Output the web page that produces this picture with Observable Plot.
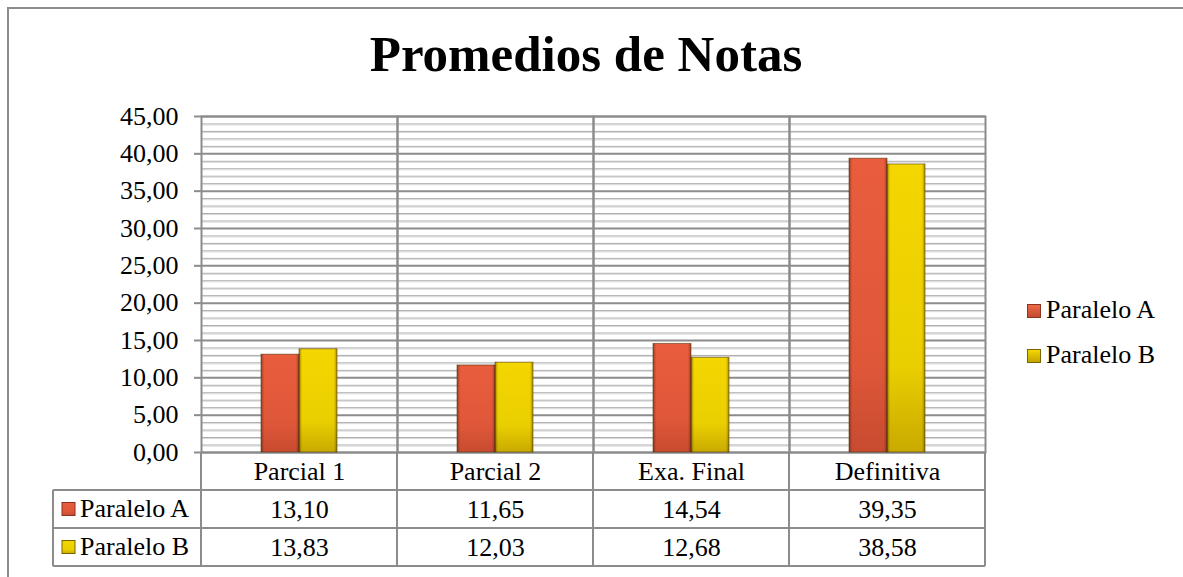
<!DOCTYPE html>
<html><head><meta charset="utf-8">
<script src="https://cdn.jsdelivr.net/npm/d3@7"></script>
<script src="https://cdn.jsdelivr.net/npm/@observablehq/plot@0.6"></script>
<style>
body{margin:0;background:#fff;}
#wrap{position:relative;width:1183px;height:577px;overflow:hidden;font-family:"Liberation Serif","Times New Roman",serif;color:#000;}
#border{position:absolute;left:7px;top:7px;width:1300px;height:700px;border-left:2px solid #8c8c8c;border-top:2px solid #8c8c8c;}
#title{position:absolute;left:0;top:29px;width:1172px;text-align:center;font-size:51px;font-weight:bold;line-height:1;}
#chart{position:absolute;left:0;top:100px;}
#chart svg, #chart svg text{font-family:"Liberation Serif","Times New Roman",serif !important;}
.legtext{position:absolute;left:1046px;font-size:26px;line-height:1;white-space:nowrap;}
.legsw{position:absolute;left:1027px;width:12px;height:12px;}
</style></head>
<body>
<div id="wrap">
  <div id="border"></div>
  <div id="title">Promedios de Notas</div>
  <div id="chart"></div>
</div>
<script>
const categories = ["Parcial 1", "Parcial 2", "Exa. Final", "Definitiva"];
const seriesNames = ["Paralelo A", "Paralelo B"];
const paraleloA = [13.10, 11.65, 14.54, 39.35];
const paraleloB = [13.83, 12.03, 12.68, 38.58];
const yTicks = [0, 5, 10, 15, 20, 25, 30, 35, 40, 45];
const minorTicks = d3.range(0, 46).filter(v => v % 5 !== 0);

const fmt = v => v.toFixed(2).replace(".", ",");
const data = categories.flatMap((c, i) => [
  {cat: c, series: seriesNames[0], value: paraleloA[i]},
  {cat: c, series: seriesNames[1], value: paraleloB[i]}
]);

const W = 1183, H = 477, ML = 200, MR = 198, MT = 16, MB = 125;

const plot = Plot.plot({
  width: W, height: H, marginLeft: ML, marginRight: MR, marginTop: MT, marginBottom: MB,
  style: {fontFamily: "Liberation Serif, Times New Roman, serif", fontSize: "26px", color: "#000", background: "transparent", overflow: "visible"},
  fx: {domain: categories, padding: 0, axis: "bottom", tickSize: 0, tickPadding: 9, label: null},
  x: {domain: seriesNames, axis: null, paddingInner: 0, paddingOuter: 1.52},
  y: {domain: [0, 45], ticks: yTicks, tickFormat: fmt, tickSize: 7, tickPadding: 16, label: null},
  color: {domain: seriesNames, range: ["url(#gA)", "url(#gB)"]},
  marks: [
    Plot.ruleY(minorTicks, {stroke: "#a9a9a9", strokeWidth: 1}),
    Plot.ruleY(minorTicks, {stroke: "#d8d8d8", strokeWidth: 1, dy: 1}),
    Plot.ruleY(yTicks, {stroke: "#8c8c8c", strokeWidth: 2}),
    Plot.frame({stroke: "#8c8c8c", strokeWidth: 2}),
    Plot.barY(data, {fx: "cat", x: "series", y: "value", fill: "series"}),
    Plot.barY(data, {fx: "cat", x: "series", y: "value", fill: "url(#edge)", stroke: "#4a3008", strokeOpacity: 0.55, strokeWidth: 1}),
    Plot.text(data.filter(d => d.series === seriesNames[0]), {fx: "cat", text: d => fmt(d.value), frameAnchor: "bottom", lineAnchor: "middle", dy: 57, fill: "#000"}),
    Plot.text(data.filter(d => d.series === seriesNames[1]), {fx: "cat", text: d => fmt(d.value), frameAnchor: "bottom", lineAnchor: "middle", dy: 95, fill: "#000"})
  ]
});
document.getElementById("chart").appendChild(plot);

const svg = d3.select(plot);
const defs = svg.insert("defs", ":first-child");
function grad(id, vertical, stops) {
  const g = defs.append("linearGradient").attr("id", id)
    .attr("x1", 0).attr("y1", 0).attr("x2", vertical ? 0 : 1).attr("y2", vertical ? 1 : 0);
  stops.forEach(([o, c, op]) => g.append("stop").attr("offset", o).attr("stop-color", c).attr("stop-opacity", op == null ? 1 : op));
}
grad("gA", true, [[0, "#e95d3d"], [0.7, "#df5739"], [1, "#c84b30"]]);
grad("gB", true, [[0, "#f4d600"], [0.7, "#eacf00"], [1, "#c9aa00"]]);
grad("edge", false, [[0, "#3a1000", 0.4], [0.08, "#000", 0], [0.92, "#000", 0], [1, "#2a1000", 0.35]]);

// axis tick colour
svg.selectAll('g[aria-label="y-axis tick"] path').attr("stroke", "#8c8c8c").attr("stroke-width", 2);

// data table grid, using the facet scale positions
let bounds;
try {
  const fxs = plot.scale("fx");
  bounds = categories.map(c => fxs.apply(c));
  bounds.push(bounds[bounds.length - 1] + fxs.bandwidth);
} catch (e) {
  const step = (W - ML - MR) / categories.length;
  bounds = d3.range(categories.length + 1).map(i => ML + i * step);
}
const yBase = H - MB;            // plot bottom
const rowH = 38;
const tableLeft = 53;
const g = svg.append("g").attr("stroke", "#8c8c8c").attr("stroke-width", 2).attr("fill", "none");
[1, 2, 3].forEach(r => g.append("line").attr("x1", tableLeft).attr("x2", bounds[bounds.length - 1]).attr("y1", yBase + r * rowH).attr("y2", yBase + r * rowH));
g.append("line").attr("x1", tableLeft).attr("x2", tableLeft).attr("y1", yBase + rowH).attr("y2", yBase + 3 * rowH);
bounds.forEach(x => g.append("line").attr("x1", x).attr("x2", x).attr("y1", yBase).attr("y2", yBase + 3 * rowH));

// row headers
seriesNames.forEach((s, i) => {
  const cy = yBase + rowH * (i + 1) + rowH / 2;
  svg.append("rect").attr("x", 62).attr("y", cy - 6.5).attr("width", 13).attr("height", 13)
    .attr("fill", i === 0 ? "url(#gA)" : "url(#gB)").attr("stroke", i === 0 ? "#8a3320" : "#7a6400").attr("stroke-width", 1);
  svg.append("text").attr("x", 80).attr("y", cy).attr("dy", "0.32em").attr("fill", "#000")
    .attr("text-anchor", "start").style("font-size", "26px").text(s);
});

// legend
const wrap = document.getElementById("wrap");
const legendBase = [319, 364];
seriesNames.forEach((s, i) => {
  const sw = document.createElement("div");
  sw.className = "legsw";
  sw.style.top = (legendBase[i] - 15) + "px";
  sw.style.background = i === 0 ? "linear-gradient(#ec6a48,#c44a2f)" : "linear-gradient(#f4d800,#c2a400)";
  sw.style.border = i === 0 ? "1px solid #8a3320" : "1px solid #7a6400";
  wrap.appendChild(sw);
  const t = document.createElement("div");
  t.className = "legtext";
  t.style.top = (legendBase[i] - 22) + "px";
  t.textContent = s;
  wrap.appendChild(t);
});
</script>
</body></html>
